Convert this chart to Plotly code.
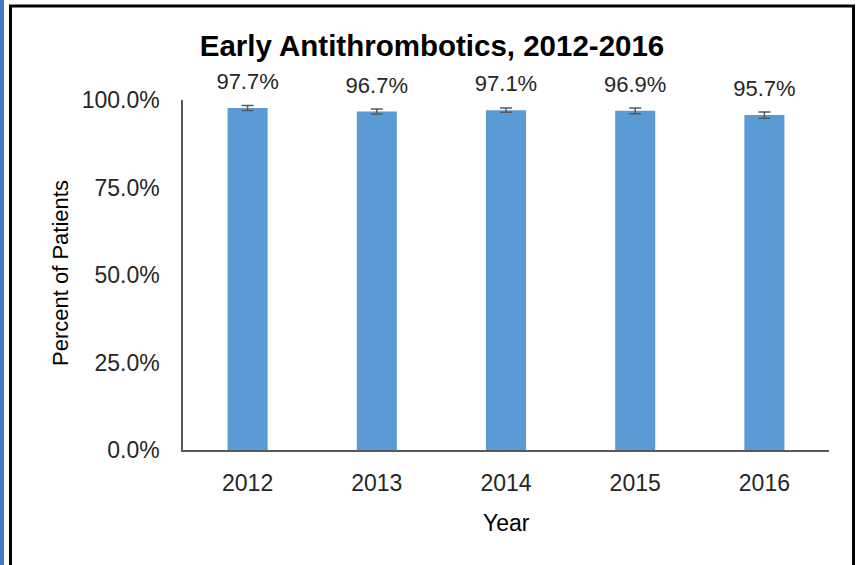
import plotly.graph_objects as go

years = ["2012", "2013", "2014", "2015", "2016"]
values = [97.7, 96.7, 97.1, 96.9, 95.7]
errors = [0.7, 0.7, 0.6, 0.85, 0.9]
labels = ["97.7%", "96.7%", "97.1%", "96.9%", "95.7%"]
yticks = [0, 25, 50, 75, 100]
yticktext = ["0.0%", "25.0%", "50.0%", "75.0%", "100.0%"]

FONT = "Arial, Liberation Sans, sans-serif"

fig = go.Figure()
fig.add_trace(go.Bar(
    x=years, y=values,
    marker=dict(color="#5B9BD5", line=dict(width=0)),
    error_y=dict(type="data", array=errors, visible=True, color="#595959", thickness=1.5, width=6),
    hoverinfo="skip",
))
# value labels above the bars
fig.add_trace(go.Scatter(
    x=years, y=values, text=labels, mode="markers+text", textposition="top center",
    marker=dict(size=20, opacity=0), cliponaxis=False,
    textfont=dict(family=FONT, size=22, color="#262626"), hoverinfo="skip",
))

# axis titles
fig.add_annotation(xref="paper", yref="paper", x=0.5, y=(450 - 523) / 350, text="Year", showarrow=False,
                   yanchor="middle", font=dict(family=FONT, size=23, color="#000000"))
fig.add_annotation(xref="paper", yref="paper", x=(60 - 183) / 646, y=(450 - 273) / 350,
                   text="Percent of Patients", textangle=-90, showarrow=False,
                   xanchor="center", yanchor="middle", font=dict(family=FONT, size=22, color="#000000"))

# outer frame and blue edge strip
fig.add_shape(type="rect", xref="paper", yref="paper",
              x0=(10.5 - 183) / 646, x1=(853.5 - 183) / 646,
              y0=(450 - 575) / 350, y1=(450 - 6) / 350,
              line=dict(color="#000000", width=3), fillcolor="rgba(0,0,0,0)", layer="below")
fig.add_shape(type="rect", xref="paper", yref="paper",
              x0=(0 - 183) / 646, x1=(4 - 183) / 646,
              y0=(450 - 575) / 350, y1=(450 + 10) / 350,
              line=dict(width=0), fillcolor="#3C7DC4", layer="below")

fig.update_layout(
    width=859, height=565,
    margin=dict(l=183, r=30, t=100, b=115),
    paper_bgcolor="white", plot_bgcolor="white",
    bargap=0.69,
    showlegend=False,
    title=dict(text="<b>Early Antithrombotics, 2012-2016</b>", x=432 / 859, xanchor="center",
               y=1 - 46 / 565, yanchor="middle",
               font=dict(family=FONT, size=29.5, color="#000000")),
    xaxis=dict(type="category", showline=True, linecolor="#595959", linewidth=1.5, showgrid=False,
               ticks="outside", ticklen=12, tickcolor="rgba(0,0,0,0)",
               tickfont=dict(family=FONT, size=23, color="#262626")),
    yaxis=dict(range=[0, 100], tickvals=yticks, ticktext=yticktext,
               showline=True, linecolor="#595959", linewidth=1.5, showgrid=False, zeroline=False,
               ticks="outside", ticklen=17, tickcolor="rgba(0,0,0,0)",
               tickfont=dict(family=FONT, size=23, color="#262626")),
)

fig.write_html("out.html", config={"displayModeBar": False},
               post_script="document.body.style.margin='0';")
